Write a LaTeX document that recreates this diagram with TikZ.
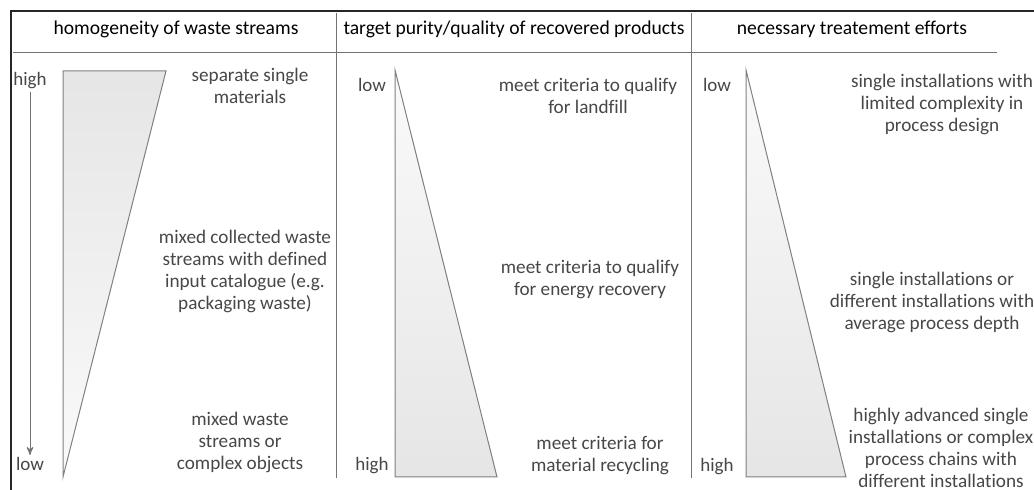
\documentclass[tikz,border=0pt]{standalone}
\usepackage{fontspec}
\setmainfont{Carlito}[Ligatures=NoCommon]
\usepackage{tikz}
\usetikzlibrary{%
  arrows,%
  shadings,%
  positioning% wg. " of "
}

\begin{document}
\begin{tikzpicture}
  [
  x=0.5pt, y=-0.5pt,
  line width=0.4pt,
  >=stealth',
  headnode/.style={inner sep=0pt, font=\fontsize{9.8}{11}\selectfont, text=black},
  textnode/.style={inner sep=0pt, align=center, font=\fontsize{9.6}{11}\selectfont, text=black!72},
  levelnode/.style={inner sep=1pt, font=\fontsize{9.5}{11}\selectfont, text=black!72},
  rule/.style={draw=black!55, line width=0.5pt},
  wedge/.style={draw=black!50, line width=0.5pt},
  ]

  \useasboundingbox (0,0) rectangle (1034,490);

  % frame and table rules
  \draw[line width=1.3pt, black!85] (11,490) -- (11,11) -- (1034,11);
  \draw[rule] (13,53) -- (997,53);
  \draw[rule] (336,13) -- (336,478);
  \draw[rule] (691,13) -- (691,478);

  % headers
  \node[headnode] (head1) at (176,29) {homogeneity of waste streams};
  \node[headnode] (head2) at (514,29) {target purity/quality of recovered products};
  \node[headnode] (head3) at (852,29) {necessary treatement efforts};

  % column 1
  \shade[top color=black!10, bottom color=black!2] (63,71) -- (166,71) -- (63,477) -- cycle;
  \draw[wedge] (63,71) -- (166,71) -- (63,477) -- cycle;
  \node[levelnode] (high1) at (30,81) {high};
  \node[levelnode] (low1) at (30,464) {low};
  \draw[->, black!55, line width=0.5pt] (high1) -- (low1);
  \node[textnode] (sep) at (250,86) {separate single\\materials};
  \node[textnode] (mixcol) at (245,271) {mixed collected waste\\streams with defined\\input catalogue (e.g.\\packaging waste)};
  \node[textnode] (mixed) at (240,442) {mixed waste\\streams or\\complex objects};

  % column 2
  \shade[top color=black!2, bottom color=black!10] (395,70) -- (395,477) -- (497,477) -- cycle;
  \draw[wedge] (395,70) -- (395,477) -- (497,477) -- cycle;
  \node[levelnode] (low2) at (372,85) {low};
  \node[levelnode] (high2) at (372,466) {high};
  \node[textnode] (landfill) at (588,96) {meet criteria to qualify\\for landfill};
  \node[textnode] (energy) at (590,279) {meet criteria to qualify\\for energy recovery};
  \node[textnode] (recycl) at (600,456) {meet criteria for\\material recycling};

  % column 3
  \shade[top color=black!2, bottom color=black!10] (746,70) -- (746,477) -- (846,477) -- cycle;
  \draw[wedge] (746,70) -- (746,477) -- (846,477) -- cycle;
  \node[levelnode] (low3) at (717,85) {low};
  \node[levelnode] (high3) at (717,467) {high};
  \node[textnode] (single) at (942,104) {single installations with\\limited complexity in\\process design};
  \node[textnode] (average) at (932,302) {single installations or\\different installations with\\average process depth};
  \node[textnode] (advanced) at (941,448) {highly advanced single\\installations or complex\\process chains with\\different installations};
\end{tikzpicture}
\end{document}
